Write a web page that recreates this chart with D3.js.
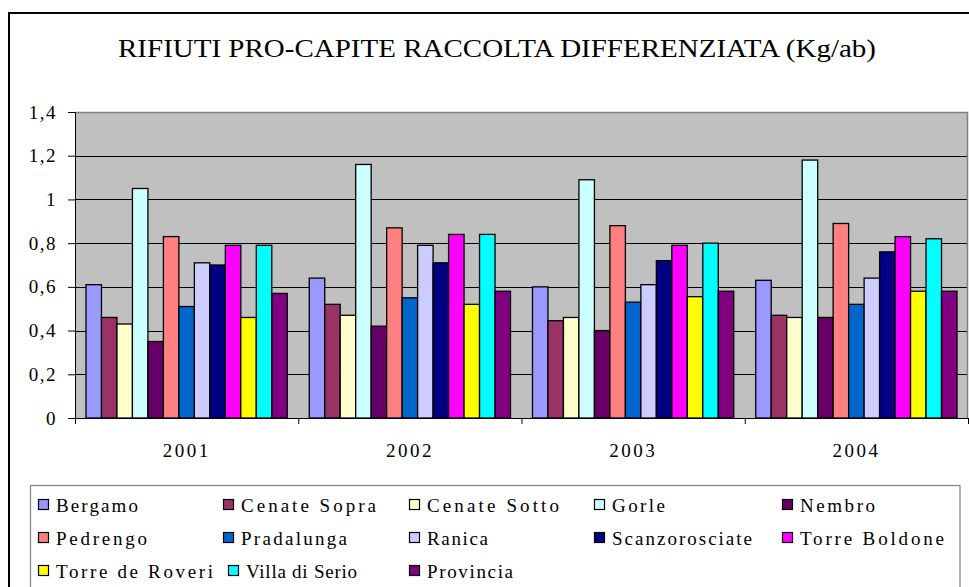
<!DOCTYPE html>
<html>
<head>
<meta charset="utf-8">
<script src="https://cdn.jsdelivr.net/npm/d3@7"></script>
<style>
  html, body { margin: 0; padding: 0; background: #fff; }
  svg { display: block; }
  text { font-family: "Liberation Serif", "Times New Roman", serif; fill: #000; }
</style>
</head>
<body>
<svg id="chart" width="969" height="587"></svg>
<script>
// ---- Data ----
const title = "RIFIUTI PRO-CAPITE RACCOLTA DIFFERENZIATA (Kg/ab)";
const years = ["2001", "2002", "2003", "2004"];
const series = ["Bergamo", "Cenate Sopra", "Cenate Sotto", "Gorle", "Nembro",
  "Pedrengo", "Pradalunga", "Ranica", "Scanzorosciate", "Torre Boldone",
  "Torre de Roveri", "Villa di Serio", "Provincia"];
const bergamo        = [0.61, 0.64, 0.60, 0.63];
const cenateSopra    = [0.46, 0.52, 0.445, 0.47];
const cenateSotto    = [0.43, 0.47, 0.46, 0.46];
const gorle          = [1.05, 1.16, 1.09, 1.18];
const nembro         = [0.35, 0.42, 0.40, 0.46];
const pedrengo       = [0.83, 0.87, 0.88, 0.89];
const pradalunga     = [0.51, 0.55, 0.53, 0.52];
const ranica         = [0.71, 0.79, 0.61, 0.64];
const scanzorosciate = [0.70, 0.71, 0.72, 0.76];
const torreBoldone   = [0.79, 0.84, 0.79, 0.83];
const torreDeRoveri  = [0.46, 0.52, 0.555, 0.58];
const villaDiSerio   = [0.79, 0.84, 0.80, 0.82];
const provincia      = [0.57, 0.58, 0.58, 0.58];
const yTicks = [0, 0.2, 0.4, 0.6, 0.8, 1.0, 1.2, 1.4];

const values = [bergamo, cenateSopra, cenateSotto, gorle, nembro, pedrengo,
  pradalunga, ranica, scanzorosciate, torreBoldone, torreDeRoveri, villaDiSerio, provincia];

// ---- Styles / layout ----
const colors = ["#9999FF", "#993366", "#FFFFCC", "#CCFFFF", "#660066", "#FF8080",
  "#0066CC", "#CCCCFF", "#000080", "#FF00FF", "#FFFF00", "#00FFFF", "#800080"];
const legendTextWidths = [82, 135, 132, 53, 75, 91, 106, 61, 140, 144, 157, 111, 86];

const svg = d3.select("#chart");
const plot = { left: 75, right: 968, top: 112, bottom: 418 };

// outer chart frame
svg.append("path")
  .attr("d", `M9,587 L9,13 L969,13`)
  .attr("fill", "none").attr("stroke", "#000").attr("stroke-width", 2);

// title
svg.append("text")
  .attr("x", 497).attr("y", 57)
  .attr("text-anchor", "middle")
  .attr("font-size", 26)
  .attr("textLength", 758).attr("lengthAdjust", "spacingAndGlyphs")
  .text(title);

// scales
const x = d3.scaleBand().domain(years).range([plot.left, plot.right]).paddingInner(0).paddingOuter(0);
const xs = d3.scaleBand().domain(series).range([0, x.bandwidth()]).paddingInner(0).paddingOuter(0.71);
const y = d3.scaleLinear().domain([0, 1.4]).range([plot.bottom, plot.top]);

const locale = d3.formatLocale({ decimal: ",", thousands: ".", grouping: [3], currency: ["", "€"] });
const fmt = locale.format(".1~f");

// plot background
svg.append("rect")
  .attr("x", plot.left).attr("y", plot.top)
  .attr("width", plot.right - plot.left).attr("height", plot.bottom - plot.top)
  .attr("fill", "#C0C0C0");

// gridlines
svg.append("g").selectAll("line")
  .data(yTicks.filter(t => t > 0 && t < 1.4))
  .join("line")
  .attr("x1", plot.left).attr("x2", plot.right)
  .attr("y1", d => Math.round(y(d)) + 0.5).attr("y2", d => Math.round(y(d)) + 0.5)
  .attr("stroke", "#000").attr("stroke-width", 1);

// plot border top / right (grey)
svg.append("path")
  .attr("d", `M${plot.left},${plot.top + 0.5} L${plot.right - 0.5},${plot.top + 0.5} L${plot.right - 0.5},${plot.bottom}`)
  .attr("fill", "none").attr("stroke", "#808080").attr("stroke-width", 1.5);

// bars
const gYear = svg.append("g").selectAll("g")
  .data(years)
  .join("g")
  .attr("transform", d => `translate(${x(d)},0)`);

gYear.selectAll("rect")
  .data((yr, i) => series.map((s, j) => ({ s, j, v: values[j][i] })))
  .join("rect")
  .attr("x", d => xs(d.s))
  .attr("y", d => y(d.v))
  .attr("width", xs.bandwidth())
  .attr("height", d => y(0) - y(d.v))
  .attr("fill", d => colors[d.j])
  .attr("stroke", "#000").attr("stroke-width", 1.3);

// y axis
const yAxis = d3.axisLeft(y).tickValues(yTicks).tickFormat(fmt).tickSize(7).tickPadding(11);
const gy = svg.append("g").attr("transform", `translate(${plot.left},0)`).call(yAxis);
gy.select(".domain").attr("stroke", "#000").attr("stroke-width", 1);
gy.selectAll(".tick line").attr("stroke", "#000");
gy.selectAll(".tick text").attr("font-size", 19).attr("font-family", "Liberation Serif, serif")
  .attr("letter-spacing", "1.5px").attr("fill", "#000");

// x axis
const xAxis = d3.axisBottom(x).tickSize(0).tickPadding(26);
const gx = svg.append("g").attr("transform", `translate(0,${plot.bottom})`).call(xAxis);
gx.select(".domain").attr("stroke", "#000").attr("stroke-width", 1);
gx.selectAll(".tick text").attr("font-size", 19).attr("font-family", "Liberation Serif, serif")
  .attr("letter-spacing", "2.5px").attr("fill", "#000");
// boundary ticks between categories
svg.append("g").selectAll("line")
  .data(years.concat(["end"]))
  .join("line")
  .attr("x1", (d, i) => (i < years.length ? x(d) : plot.right) + 0.5)
  .attr("x2", (d, i) => (i < years.length ? x(d) : plot.right) + 0.5)
  .attr("y1", plot.bottom).attr("y2", plot.bottom + 6)
  .attr("stroke", "#000");

// legend
svg.append("rect")
  .attr("x", 30.5).attr("y", 485.5).attr("width", 929.5).attr("height", 120)
  .attr("fill", "#fff").attr("stroke", "#808080").attr("stroke-width", 1.2);

const colX = [38, 223, 409, 594, 782];
const rowY = [505, 538, 571];
const legendItems = [];
let prevEnd = 0;
series.forEach((s, i) => {
  const row = Math.floor(i / 5), col = i % 5;
  if (col === 0) prevEnd = 0;
  const mx = Math.max(colX[col], prevEnd + 15);
  legendItems.push({ s, i, mx, my: rowY[row] });
  prevEnd = mx + 18 + legendTextWidths[i];
});

const gl = svg.append("g").selectAll("g").data(legendItems).join("g");
gl.append("rect")
  .attr("x", d => d.mx + 0.5).attr("y", d => d.my - 5.5)
  .attr("width", 10).attr("height", 10)
  .attr("fill", d => colors[d.i]).attr("stroke", "#000").attr("stroke-width", 1.2);
gl.append("text")
  .attr("x", d => d.mx + 18).attr("y", d => d.my + 6.5)
  .attr("font-size", 19)
  .attr("textLength", d => legendTextWidths[d.i]).attr("lengthAdjust", "spacing")
  .text(d => d.s);
</script>
</body>
</html>
